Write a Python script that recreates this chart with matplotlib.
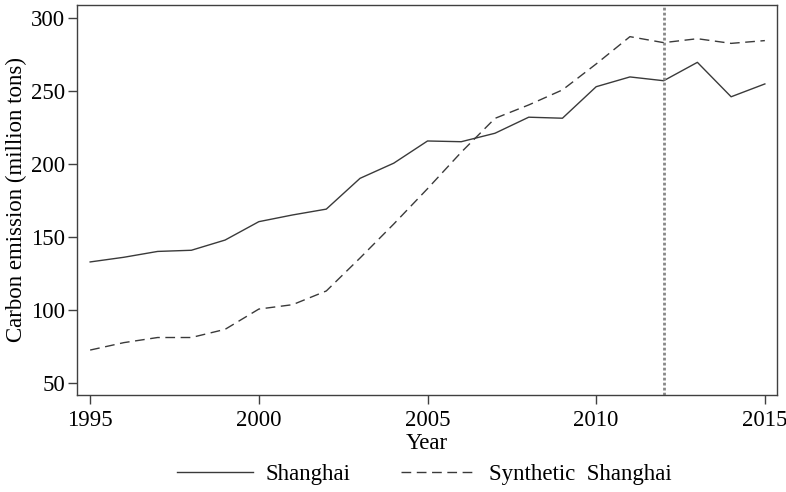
import numpy as np
import matplotlib
matplotlib.use('Agg')
import matplotlib.pyplot as plt
from matplotlib import rcParams

rcParams['font.family'] = ['Liberation Serif', 'DejaVu Serif']
rcParams['font.size'] = 16.5

# data
years = list(range(1995, 2016))
shanghai = [132.8, 136.0, 140.0, 140.8, 147.8, 160.4, 165.0, 169.0, 190.1, 200.5,
            215.7, 215.2, 221.0, 232.0, 231.3, 252.9, 259.6, 257.0, 269.6, 246.0, 254.8]
synthetic = [72.4, 77.5, 81.0, 81.0, 86.6, 100.5, 103.5, 112.9, 135.5, 158.8,
             183.0, 208.0, 231.2, 240.4, 250.7, 268.5, 287.2, 283.1, 285.8, 282.6, 284.5]
treat_year = 2012
xticks = [1995, 2000, 2005, 2010, 2015]
yticks = [50, 100, 150, 200, 250, 300]

fig = plt.figure(figsize=(7.86, 4.92), dpi=100)
ax = fig.add_axes([77/786, 1-395/492, 700/786, 390/492])

line_col = '#3a3a3a'
ax.plot(years, shanghai, color=line_col, lw=1.0, label='Shanghai')
ax.plot(years, synthetic, color=line_col, lw=1.0, dashes=(7, 4), label='Synthetic  Shanghai')
ax.axvline(treat_year, color='#888888', lw=2.0, linestyle=(0, (1, 0.8)))

ax.set_xlim(1994.61, 2015.36)
ax.set_ylim(41.6, 308.9)
ax.set_xticks(xticks)
ax.set_yticks(yticks)
ax.tick_params(direction='out', length=6.5, width=1.0, color='#404040', pad=2)
ax.tick_params(axis='x', pad=4)
for s in ax.spines.values():
    s.set_color('#404040')
    s.set_linewidth(1.0)

ax.set_xlabel('Year', labelpad=2)
ax.set_ylabel('Carbon emission (million tons)', labelpad=3)

fig.legend(loc='center', bbox_to_anchor=(0.54, 1-474/492), ncol=2, frameon=False,
           handlelength=3.3, handletextpad=0.55, columnspacing=2.2,
           borderpad=0, borderaxespad=0)

fig.savefig('out.png', dpi=100)
